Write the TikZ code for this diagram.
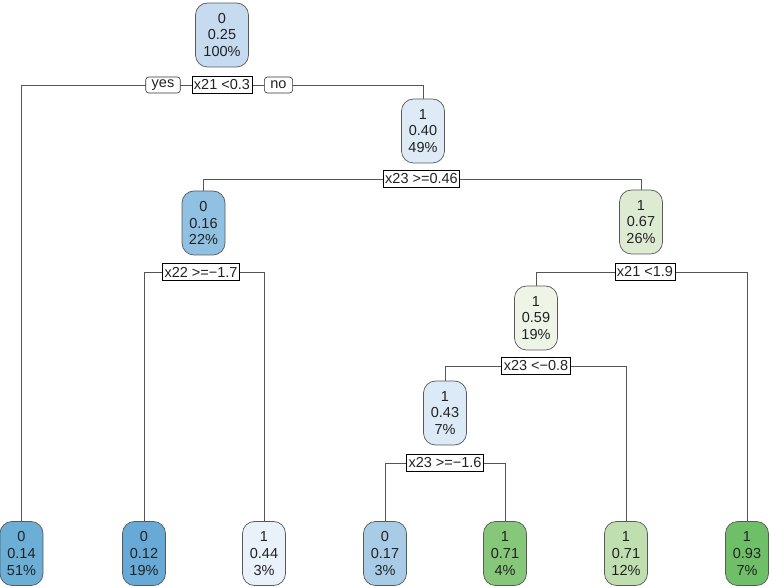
\documentclass[tikz,border=0pt]{standalone}
\usepackage{fontspec}
\setmainfont{Liberation Sans}
\usetikzlibrary{backgrounds}
\definecolor{cRoot}{HTML}{C6DBEF}
\definecolor{cNa}{HTML}{DEEBF7}
\definecolor{cNb}{HTML}{90C0E2}
\definecolor{cNc}{HTML}{DDEBD3}
\definecolor{cNd}{HTML}{EEF5E6}
\definecolor{cNe}{HTML}{DCE9F6}
\definecolor{cLa}{HTML}{6BAED6}
\definecolor{cLb}{HTML}{67AAD7}
\definecolor{cLc}{HTML}{E9F1FA}
\definecolor{cLd}{HTML}{A9CCE6}
\definecolor{cLe}{HTML}{87C77A}
\definecolor{cLf}{HTML}{BFDFB1}
\definecolor{cLg}{HTML}{6FBF68}
\definecolor{edgec}{HTML}{555555}
\definecolor{txt}{HTML}{222222}
\tikzset{
  treenode/.style={draw=black!65, line width=0.7pt, rounded corners=12pt,
    minimum width=43pt, minimum height=64pt, inner sep=0pt, align=center,
    text=txt, font=\fontsize{14.5}{16.7}\selectfont},
  splitbox/.style={draw=black, line width=0.7pt, fill=white, inner xsep=2pt, inner ysep=1pt,
    minimum height=17pt, text=txt, font=\fontsize{14.5}{15}\selectfont},
  yesno/.style={draw=black!80, line width=0.6pt, fill=white, rounded corners=3pt,
    inner xsep=6pt, inner ysep=1pt, minimum height=16pt, text=txt,
    font=\fontsize{14.5}{15}\selectfont},
  edge/.style={draw=edgec, line width=0.7pt}
}
\begin{document}
\begin{tikzpicture}[x=1pt,y=-1pt]
\useasboundingbox (0,0) rectangle (772,588);
% inner nodes
\node[treenode, fill=cRoot, minimum width=53pt] (root) at (222,35) {0\\0.25\\100\%};
\node[treenode, fill=cNa] (n2) at (423,131) {1\\0.40\\49\%};
\node[treenode, fill=cNb] (n3) at (203.5,223) {0\\0.16\\22\%};
\node[treenode, fill=cNc] (n4) at (641,222) {1\\0.67\\26\%};
\node[treenode, fill=cNd] (n5) at (536,318) {1\\0.59\\19\%};
\node[treenode, fill=cNe] (n6) at (445,413) {1\\0.43\\7\%};
% leaves
\node[treenode, fill=cLa] (l1) at (21.5,553.5) {0\\0.14\\51\%};
\node[treenode, fill=cLb] (l2) at (144,553.5) {0\\0.12\\19\%};
\node[treenode, fill=cLc] (l3) at (264,553.5) {1\\0.44\\3\%};
\node[treenode, fill=cLd] (l4) at (385,553.5) {0\\0.17\\3\%};
\node[treenode, fill=cLe] (l5) at (505,553.5) {1\\0.71\\4\%};
\node[treenode, fill=cLf] (l6) at (626,553.5) {1\\0.71\\12\%};
\node[treenode, fill=cLg] (l7) at (747,553.5) {1\\0.93\\7\%};
% split labels
\node[splitbox] (s1) at (222,85) {x21 <0.3};
\node[yesno] (yes) at (163,85) {yes};
\node[yesno] (no) at (278.5,85) {no};
\node[splitbox] (s2) at (421.5,179) {x23 >=0.46};
\node[splitbox] (s3) at (201,272) {x22 >=−1.7};
\node[splitbox] (s4) at (645,272) {x21 <1.9};
\node[splitbox] (s5) at (536,366) {x23 <−0.8};
\node[splitbox] (s6) at (445,463) {x23 >=−1.6};
% connectors
\begin{scope}[on background layer]
\draw[edge] (s1.center) -| (l1.north);
\draw[edge] (s1.center) -| (n2.north);
\draw[edge] (s2.center) -| (n3.north);
\draw[edge] (s2.center) -| (n4.north);
\draw[edge] (s3.center) -| (l2.north);
\draw[edge] (s3.center) -| (l3.north);
\draw[edge] (s4.center) -| (n5.north);
\draw[edge] (s4.center) -| (l7.north);
\draw[edge] (s5.center) -| (n6.north);
\draw[edge] (s5.center) -| (l6.north);
\draw[edge] (s6.center) -| (l4.north);
\draw[edge] (s6.center) -| (l5.north);
\end{scope}
\end{tikzpicture}
\end{document}
